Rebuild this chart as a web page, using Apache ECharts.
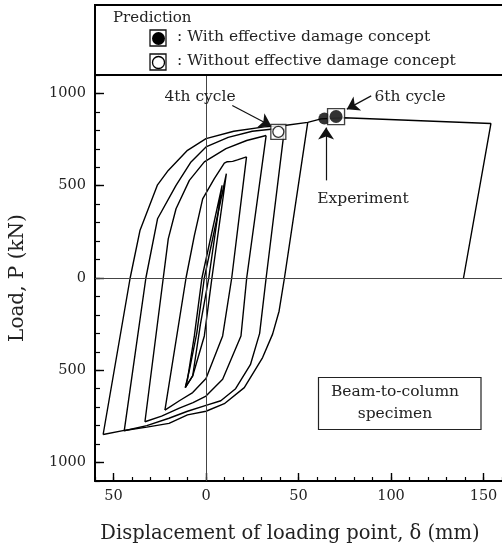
<!DOCTYPE html>
<html>
<head>
<meta charset="utf-8">
<script src="https://cdn.jsdelivr.net/npm/echarts@6/dist/echarts.min.js"></script>
<style>
html,body{margin:0;padding:0;background:#fff;}
#c{width:502px;height:550px;}
</style>
</head>
<body>
<div id="c"></div>
<script>
// ---------- data (displacement mm, load kN) ----------
const xMin = -60, xMax = 160, yMin = -1100, yMax = 1100;
const xMajorTicks = [-50, 0, 50, 100, 150];
const yMajorTicks = [-1000, -500, 0, 500, 1000];

const spikeLoopA = [[-11.2,-594],[-10,-549],[-6.3,-314],[-2.2,0],[8.7,502],[1.5,0],[-3,-250],[-7.2,-531],[-11.2,-594]];
const spikeLoopB = [[-11.2,-594],[-9,-500],[-5,-300],[-0.9,0],[11,565],[3.2,0],[-0.9,-314],[-7.2,-531],[-11.2,-594]];
const cycle2Up   = [[-22.2,-716],[-10.8,0],[-6.3,230],[-1.8,429],[4.5,538],[9.9,622],[11.5,630],[14.4,632],[17,640],[21.9,656]];
const cycle2Down = [[21.9,656],[13.9,0],[9,-314],[0,-545],[-7.2,-621],[-14.4,-665],[-22.2,-716]];
const cycle3Up   = [[-33,-779],[-23.1,0],[-20.4,212],[-16.2,375],[-9,529],[-0.9,629],[10.8,701],[22,745],[32.5,772]];
const cycle3Down = [[32.5,772],[22,0],[18.9,-314],[9,-549],[0,-640],[-7,-675],[-14.4,-705],[-24,-748],[-33,-779]];
const cycle4Up   = [[-44.2,-828],[-32.5,0],[-26.2,321],[-16.2,502],[-8.1,629],[0,710],[12,762],[25,795],[35,806],[42.4,808]];
const cycle4Down = [[42.4,808],[32.5,0],[29,-300],[24,-470],[16,-600],[8,-665],[0,-690],[-10,-722],[-20,-760],[-32,-800],[-44.2,-828]];
const cycle5Down = [[55,843],[42.4,0],[39.5,-180],[36,-304],[30.6,-431],[20.7,-594],[9.9,-681],[0,-722],[-10,-742],[-20,-788],[-32,-808],[-44.2,-826],[-55.6,-848]];
const cycle6     = [[-55.6,-848],[-41,0],[-35.7,257],[-26.2,505],[-20.4,583],[-10,692],[0,755],[15,795],[31.5,819],[42.4,826],[55,843],[62.2,862],[74.8,868],[154,837],[139.2,0]];

const experimentPoint = [[64,864]];
const prediction6th   = [[70.3,875]];
const prediction4th   = [[39.1,792]];

const arrow4th = [[14.2,935],[35.3,824]];
const arrow6th = [[89.3,987],[76.1,915]];
const arrowExp = [[64.9,529],[64.9,815]];

// ---------- chart ----------
const FONT = 'DejaVu Serif';
const TXT = '#222';
const chart = echarts.init(document.getElementById('c'), null, {renderer:'canvas'});

function curve(name, data) {
  return {
    name, type:'line', data, xAxisIndex:0, yAxisIndex:0,
    showSymbol:false, symbol:'none', silent:true, animation:false, z:3,
    lineStyle:{color:'#000', width:1.4}
  };
}
function arrow(coords) {
  return [{coord:coords[0], symbol:'none'}, {coord:coords[1], symbol:'arrow'}];
}

const series = [
  curve('spikeA', spikeLoopA),
  curve('spikeB', spikeLoopB),
  curve('c2u', cycle2Up),
  curve('c2d', cycle2Down),
  curve('c3u', cycle3Up),
  curve('c3d', cycle3Down),
  curve('c4u', cycle4Up),
  curve('c4d', cycle4Down),
  curve('c5d', cycle5Down),
  curve('c6', cycle6),
  {
    name:'ref', type:'line', data:[], xAxisIndex:0, yAxisIndex:0, silent:true,
    markLine:{
      silent:true, animation:false, symbol:['none','none'], label:{show:false},
      lineStyle:{color:'#444', width:1, type:'solid'},
      data:[{xAxis:0},{yAxis:0}]
    }
  },
  {
    name:'arrows', type:'line', data:[], xAxisIndex:0, yAxisIndex:0, silent:true,
    markLine:{
      silent:true, animation:false, symbol:['none','arrow'], symbolSize:12, label:{show:false},
      lineStyle:{color:'#111', width:1.2, type:'solid'},
      data:[arrow(arrow4th), arrow(arrow6th), arrow(arrowExp)]
    }
  },
  {
    name:'exp', type:'scatter', data:experimentPoint, symbol:'circle', symbolSize:12,
    itemStyle:{color:'#000'}, z:5, silent:true
  },
  {
    name:'p6box', type:'scatter', data:prediction6th, symbol:'rect', symbolSize:[17,16],
    itemStyle:{color:'#fff', borderColor:'#111', borderWidth:1.3}, z:6, silent:true
  },
  {
    name:'p6', type:'scatter', data:prediction6th, symbol:'circle', symbolSize:13,
    itemStyle:{color:'#000'}, z:7, silent:true
  },
  {
    name:'p4box', type:'scatter', data:prediction4th, symbol:'rect', symbolSize:15,
    itemStyle:{color:'#fff', borderColor:'#111', borderWidth:1.3}, z:6, silent:true
  },
  {
    name:'p4', type:'scatter', data:prediction4th, symbol:'circle', symbolSize:11,
    itemStyle:{color:'#fff', borderColor:'#000', borderWidth:1.3}, z:7, silent:true
  }
];

const labelFmt = v => String(Math.abs(v));
const F15 = '15.5px "DejaVu Serif"';

const option = {
  animation:false,
  backgroundColor:'#fff',
  grid:{left:95, right:0, top:75, bottom:69, containLabel:false},
  xAxis:[
    {
      type:'value', min:xMin, max:xMax, interval:10, position:'bottom',
      axisLine:{show:true, onZero:false, lineStyle:{color:'#000', width:2}},
      axisTick:{show:true, inside:true, length:4, lineStyle:{color:'#000', width:1.2}},
      axisLabel:{show:false}, splitLine:{show:false}
    },
    {
      type:'value', min:xMin, max:xMax, position:'bottom',
      axisLine:{show:false, onZero:false},
      axisTick:{show:true, inside:true, length:8, customValues:xMajorTicks, lineStyle:{color:'#000', width:1.4}},
      axisLabel:{show:true, customValues:xMajorTicks, formatter:labelFmt, margin:8,
                 fontFamily:FONT, fontSize:14.5, color:TXT},
      splitLine:{show:false}
    }
  ],
  yAxis:[
    {
      type:'value', min:yMin, max:yMax, interval:100, position:'left',
      axisLine:{show:true, onZero:false, lineStyle:{color:'#000', width:2}},
      axisTick:{show:true, inside:true, length:5, lineStyle:{color:'#000', width:1.2}},
      axisLabel:{show:false}, splitLine:{show:false}
    },
    {
      type:'value', min:yMin, max:yMax, position:'left',
      axisLine:{show:false, onZero:false},
      axisTick:{show:true, inside:true, length:9, customValues:yMajorTicks, lineStyle:{color:'#000', width:1.4}},
      axisLabel:{show:true, customValues:yMajorTicks, formatter:labelFmt, margin:9,
                 fontFamily:FONT, fontSize:14.5, color:TXT},
      splitLine:{show:false}
    }
  ],
  series,
  graphic:[
    // legend box (top frame)
    {type:'rect', shape:{x:95, y:5, width:420, height:70}, z:10,
     style:{fill:'none', stroke:'#000', lineWidth:2}},
    {type:'text', x:113, y:18, z:11, style:{text:'Prediction', font:'15px "DejaVu Serif"', fill:TXT, textVerticalAlign:'middle'}},
    {type:'rect', shape:{x:150, y:30, width:16, height:16}, z:11, style:{fill:'#fff', stroke:'#111', lineWidth:1.3}},
    {type:'circle', shape:{cx:158.5, cy:38.5, r:6.5}, z:12, style:{fill:'#000'}},
    {type:'text', x:177, y:37, z:11, style:{text:': With effective damage concept', font:F15, fill:TXT, textVerticalAlign:'middle'}},
    {type:'rect', shape:{x:150, y:54, width:16, height:16}, z:11, style:{fill:'#fff', stroke:'#111', lineWidth:1.3}},
    {type:'circle', shape:{cx:158.5, cy:62.5, r:6}, z:12, style:{fill:'#fff', stroke:'#000', lineWidth:1.3}},
    {type:'text', x:177, y:61, z:11, style:{text:': Without effective damage concept', font:F15, fill:TXT, textVerticalAlign:'middle'}},
    // annotations
    {type:'text', x:200, y:97, z:11, style:{text:'4th cycle', font:F15, fill:TXT, textAlign:'center', textVerticalAlign:'middle'}},
    {type:'text', x:410, y:97, z:11, style:{text:'6th cycle', font:F15, fill:TXT, textAlign:'center', textVerticalAlign:'middle'}},
    {type:'text', x:363, y:199, z:11, style:{text:'Experiment', font:F15, fill:TXT, textAlign:'center', textVerticalAlign:'middle'}},
    // specimen box
    {type:'rect', shape:{x:318.5, y:377.5, width:162.5, height:52}, z:10, style:{fill:'#fff', stroke:'#222', lineWidth:1.2}},
    {type:'text', x:395, y:392, z:11, style:{text:'Beam-to-column', font:F15, fill:TXT, textAlign:'center', textVerticalAlign:'middle'}},
    {type:'text', x:395, y:414, z:11, style:{text:'specimen', font:F15, fill:TXT, textAlign:'center', textVerticalAlign:'middle'}},
    // axis titles
    {type:'text', x:290, y:534, z:11, style:{text:'Displacement of loading point, δ (mm)', font:'19.5px "DejaVu Serif"', fill:TXT, textAlign:'center', textVerticalAlign:'middle'}},
    {type:'text', x:18, y:278, rotation:Math.PI/2, z:11, style:{text:'Load, P (kN)', font:'20px "DejaVu Serif"', fill:TXT, textAlign:'center', textVerticalAlign:'middle'}}
  ]
};
chart.setOption(option);
</script>
</body>
</html>
